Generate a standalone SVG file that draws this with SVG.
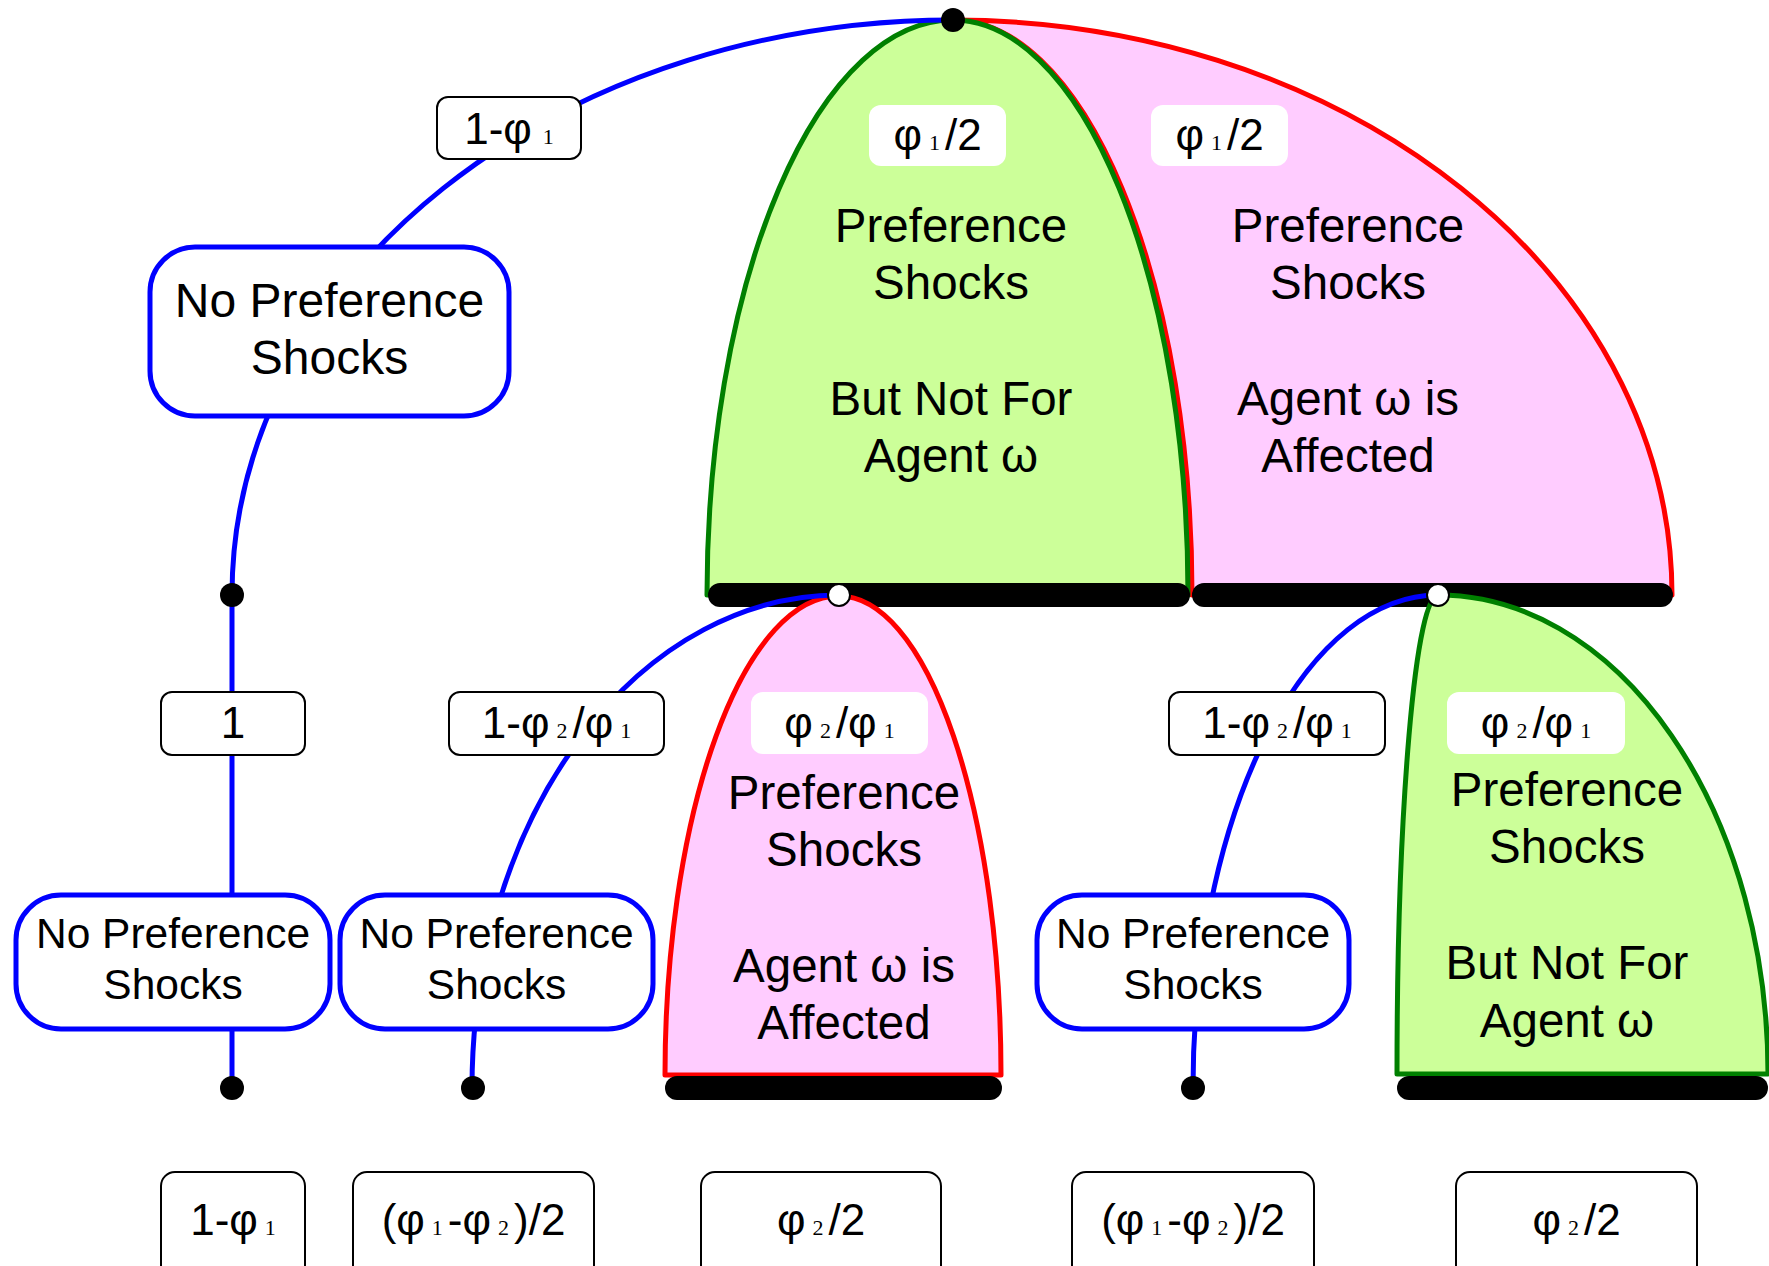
<svg xmlns="http://www.w3.org/2000/svg" width="1769" height="1266" viewBox="0 0 1769 1266">
<style>
.t { font-family: "Liberation Sans", Arial, sans-serif; fill: #000; text-anchor: middle; }
.big { font-size: 47.5px; }
.npt { font-size: 48px; }
.np { font-size: 42.5px; }
.lb { font-size: 44px; }
.sub { font-family: "Liberation Serif", "Times New Roman", serif; font-size: 22px; }
.conn { fill: none; stroke: #0000ff; stroke-width: 5; }
.npbox { fill: #fff; stroke: #0000ff; stroke-width: 5; }
.lbox { fill: #fff; stroke: #000; stroke-width: 2; }
.wlab { fill: #fff; }
.bar { stroke: #000; stroke-width: 24; stroke-linecap: round; fill: none; }
.dot { fill: #000; }
.wc { fill: #fff; stroke: #000; stroke-width: 2; }
.gArch { fill: #ccff99; stroke: #008000; stroke-width: 5; stroke-linejoin: round; }
.pArch { fill: #ffccff; stroke: #ff0000; stroke-width: 5; stroke-linejoin: round; }
</style>
<rect x="0" y="0" width="1769" height="1266" fill="#fff"/>

<!-- top arches -->
<g id="arch-top-pink">
  <path class="pArch" d="M953,20 A719,575 0 0,1 1672,595 L1192,595 A239,575 0 0,0 953,20 Z"/>
</g>
<g id="arch-top-green">
  <path class="gArch" d="M707,595 A246,575 0 0,1 953,20 A235,575 0 0,1 1188,595 Z"/>
</g>
<g id="bars-top">
  <line class="bar" x1="720" y1="595" x2="1178" y2="595"/>
  <line class="bar" x1="1204" y1="595" x2="1661" y2="595"/>
</g>

<!-- lower arches -->
<g id="arch-low-pink">
  <path class="pArch" d="M665,1075 A174,479 0 0,1 839,596 A162,479 0 0,1 1001,1075 Z"/>
</g>
<g id="arch-low-green">
  <path class="gArch" d="M1397,1074 A41,479 0 0,1 1438,595 A330,479 0 0,1 1768,1074 Z"/>
</g>
<g id="bars-low">
  <line class="bar" x1="677" y1="1088" x2="990" y2="1088"/>
  <line class="bar" x1="1409" y1="1088" x2="1756" y2="1088"/>
</g>

<!-- connectors -->
<g id="connectors">
  <path class="conn" d="M953,20 A721,575 0 0,0 232,595 L232,1088"/>
  <path class="conn" d="M839,595 A367,493 0 0,0 472,1088"/>
  <path class="conn" d="M1438,595 A245,493 0 0,0 1193,1088"/>
</g>

<!-- points -->
<g id="points">
  <circle class="dot" cx="953" cy="20" r="12"/>
  <circle class="dot" cx="232" cy="595" r="12"/>
  <circle class="dot" cx="232" cy="1088" r="12"/>
  <circle class="dot" cx="473" cy="1088" r="12"/>
  <circle class="dot" cx="1193" cy="1088" r="12"/>
  <circle class="wc" cx="839" cy="595" r="11"/>
  <circle class="wc" cx="1438" cy="595" r="11"/>
</g>

<!-- arch texts -->
<g id="arch-top-green-text">
  <rect class="wlab" x="869" y="105" width="137" height="61" rx="12"/>
  <text class="t lb" x="937.5" y="150">φ<tspan class="sub" dx="7">1</tspan><tspan dx="5">/2</tspan></text>
  <text class="t big" x="951" y="242">Preference</text>
  <text class="t big" x="951" y="299">Shocks</text>
  <text class="t big" x="951" y="415">But Not For</text>
  <text class="t big" x="951" y="472">Agent ω</text>
</g>
<g id="arch-top-pink-text">
  <rect class="wlab" x="1151" y="105" width="137" height="61" rx="12"/>
  <text class="t lb" x="1219.5" y="150">φ<tspan class="sub" dx="7">1</tspan><tspan dx="5">/2</tspan></text>
  <text class="t big" x="1348" y="242">Preference</text>
  <text class="t big" x="1348" y="299">Shocks</text>
  <text class="t big" x="1348" y="415">Agent ω is</text>
  <text class="t big" x="1348" y="472">Affected</text>
</g>
<g id="arch-low-pink-text">
  <rect class="wlab" x="751" y="692" width="177" height="62" rx="12"/>
  <text class="t lb" x="839.5" y="738">φ<tspan class="sub" dx="7">2</tspan><tspan dx="5">/φ</tspan><tspan class="sub" dx="7">1</tspan></text>
  <text class="t big" x="844" y="809">Preference</text>
  <text class="t big" x="844" y="866">Shocks</text>
  <text class="t big" x="844" y="982">Agent ω is</text>
  <text class="t big" x="844" y="1039">Affected</text>
</g>
<g id="arch-low-green-text">
  <rect class="wlab" x="1447" y="692" width="178" height="62" rx="12"/>
  <text class="t lb" x="1536" y="738">φ<tspan class="sub" dx="7">2</tspan><tspan dx="5">/φ</tspan><tspan class="sub" dx="7">1</tspan></text>
  <text class="t big" x="1567" y="806">Preference</text>
  <text class="t big" x="1567" y="863">Shocks</text>
  <text class="t big" x="1567" y="979">But Not For</text>
  <text class="t big" x="1567" y="1037">Agent ω</text>
</g>

<!-- no-shock nodes -->
<g id="np-top">
  <rect class="npbox" x="150" y="247" width="359" height="169" rx="45"/>
  <text class="t npt" x="329.5" y="317">No Preference</text>
  <text class="t npt" x="329.5" y="374">Shocks</text>
</g>
<g id="np-1">
  <rect class="npbox" x="16" y="895" width="314" height="134" rx="45"/>
  <text class="t np" x="173" y="948">No Preference</text>
  <text class="t np" x="173" y="999">Shocks</text>
</g>
<g id="np-2">
  <rect class="npbox" x="340" y="895" width="313" height="134" rx="45"/>
  <text class="t np" x="496.5" y="948">No Preference</text>
  <text class="t np" x="496.5" y="999">Shocks</text>
</g>
<g id="np-3">
  <rect class="npbox" x="1037" y="895" width="312" height="134" rx="45"/>
  <text class="t np" x="1193" y="948">No Preference</text>
  <text class="t np" x="1193" y="999">Shocks</text>
</g>

<!-- edge labels -->
<g id="lbl-top">
  <rect class="lbox" x="437" y="97" width="144" height="62" rx="11"/>
  <text class="t lb" x="509" y="144">1-φ<tspan class="sub" dx="11">1</tspan></text>
</g>
<g id="lbl-one">
  <rect class="lbox" x="161" y="692" width="144" height="63" rx="11"/>
  <text class="t lb" x="233" y="738">1</text>
</g>
<g id="lbl-left">
  <rect class="lbox" x="449" y="692" width="215" height="63" rx="11"/>
  <text class="t lb" x="556.5" y="738">1-φ<tspan class="sub" dx="7">2</tspan><tspan dx="5">/φ</tspan><tspan class="sub" dx="7">1</tspan></text>
</g>
<g id="lbl-right">
  <rect class="lbox" x="1169" y="692" width="216" height="63" rx="11"/>
  <text class="t lb" x="1277" y="738">1-φ<tspan class="sub" dx="7">2</tspan><tspan dx="5">/φ</tspan><tspan class="sub" dx="7">1</tspan></text>
</g>

<!-- outcome labels -->
<g id="out-1">
  <rect class="lbox" x="161" y="1172" width="144" height="130" rx="14"/>
  <text class="t lb" x="233" y="1235">1-φ<tspan class="sub" dx="7">1</tspan></text>
</g>
<g id="out-2">
  <rect class="lbox" x="353" y="1172" width="241" height="130" rx="14"/>
  <text class="t lb" x="473.5" y="1235">(φ<tspan class="sub" dx="7">1</tspan><tspan dx="5">-φ</tspan><tspan class="sub" dx="7">2</tspan><tspan dx="5">)/2</tspan></text>
</g>
<g id="out-3">
  <rect class="lbox" x="701" y="1172" width="240" height="130" rx="14"/>
  <text class="t lb" x="821" y="1235">φ<tspan class="sub" dx="7">2</tspan><tspan dx="5">/2</tspan></text>
</g>
<g id="out-4">
  <rect class="lbox" x="1072" y="1172" width="242" height="130" rx="14"/>
  <text class="t lb" x="1193" y="1235">(φ<tspan class="sub" dx="7">1</tspan><tspan dx="5">-φ</tspan><tspan class="sub" dx="7">2</tspan><tspan dx="5">)/2</tspan></text>
</g>
<g id="out-5">
  <rect class="lbox" x="1456" y="1172" width="241" height="130" rx="14"/>
  <text class="t lb" x="1576.5" y="1235">φ<tspan class="sub" dx="7">2</tspan><tspan dx="5">/2</tspan></text>
</g>
</svg>
